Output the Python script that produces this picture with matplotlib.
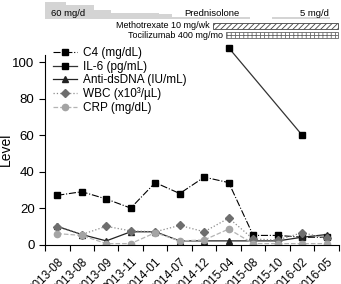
import numpy as np
import matplotlib
matplotlib.use("Agg")
import matplotlib.pyplot as plt

plt.rcParams['font.family'] = ['Liberation Sans', 'DejaVu Sans']
plt.rcParams['hatch.linewidth'] = 0.6

dates = ["2013-08", "2013-08", "2013-09", "2013-11", "2014-01", "2014-07",
         "2014-12", "2015-04", "2015-08", "2015-10", "2016-02", "2016-05"]

c4 = [27, 29, 25, 20, 34, 28, 37, 34, 5, 5, 4, 4]
il6 = [np.nan] * 7 + [108] + [np.nan] * 2 + [60, np.nan]
dsdna = [10, 5.5, 2, 7, 7, 2, 2, 2, 2, 2, 4, 5.5]
wbc = [9.5, 5.5, 10, 7.5, 7, 10.5, 7, 14.5, 3, 2.5, 6.5, 3.5]
crp = [6, 5, 0.5, 0.5, 6.5, 2, 2.5, 8.5, 0.5, 0.5, 0.5, 0.5]

# prednisolone taper: step edges (in visit units) and relative dose height
pred_edges = [-0.53, 0.37, 1.51, 2.21, 4.17, 4.7, 7.85]
pred_dose = [60, 48, 30, 20, 16, 7]
pred_tail = (8.75, 11.12, 7)
mtx_span = (6.35, 11.45)
tcz_span = (6.9, 11.45)

x = np.arange(len(dates))

fig = plt.figure(figsize=(3.41, 2.84), dpi=100)
ax = fig.add_axes([0.132, 0.139, 0.862, 0.667])
top = fig.add_axes([0.132, 1 - 45 / 284, 0.862, 45 / 284], sharex=ax)

ax.plot(x, c4, color='black', ls='-.', lw=0.8, marker='s', ms=4.5, label='C4 (mg/dL)')
m = ~np.isnan(il6)
ax.plot(x[m], np.array(il6)[m], color='#333333', ls='-', lw=0.9, marker='s', ms=4.5,
        mfc='black', mec='black', label='IL-6 (pg/mL)', clip_on=False)
ax.plot(x, dsdna, color='#222222', ls='-', lw=0.9, marker='^', ms=5, label='Anti-dsDNA (IU/mL)')
ax.plot(x, wbc, color='#8c8c8c', ls=':', lw=0.9, marker='D', ms=4, mfc='#6e6e6e', mec='#6e6e6e',
        label='WBC (x10\u00b3/\u00b5L)')
ax.plot(x, crp, color='#b4b4b4', ls='--', lw=0.9, marker='o', ms=4.5, mfc='#a4a4a4', mec='#a4a4a4',
        label='CRP (mg/dL)')

ax.set_xlim(-0.5, len(dates) - 0.5)
ax.set_ylim(0, 104)
ax.set_yticks([0, 20, 40, 60, 80, 100])
ax.set_xticks(x)
ax.set_xticks(np.arange(-0.5, len(dates)), minor=True)
ax.set_xticklabels(dates, rotation=45, ha='right', rotation_mode='anchor', fontsize=8.5)
ax.tick_params(axis='x', which='major', length=0, pad=8)
ax.tick_params(axis='x', which='minor', length=4, width=0.8)
ax.tick_params(axis='y', labelsize=9.5, length=4, width=0.8)
ax.spines['top'].set_visible(False)
ax.spines['right'].set_visible(False)
ax.set_ylabel('Level', fontsize=10)
ax.yaxis.set_label_coords(-0.11, 0.5)

ax.legend(loc='upper left', bbox_to_anchor=(0.0, 1.085), frameon=False, fontsize=8.5,
          handlelength=2.0, handletextpad=0.5, labelspacing=0.12, borderpad=0.2)

# treatment timeline
top.set_ylim(45, 0)
top.axis('off')
base = 18.5
for i, d in enumerate(pred_dose):
    h = d / 60 * 16.5
    top.fill_between([pred_edges[i], pred_edges[i + 1]], base, base - h,
                     color='#d4d4d4', lw=0)
h = pred_tail[2] / 60 * 16.5
top.fill_between([pred_tail[0], pred_tail[1]], base, base - h, color='#d4d4d4', lw=0)
top.text(-0.25, 13, '60 mg/d', fontsize=6.8, va='center')
top.text(6.3, 13, 'Prednisolone', fontsize=6.8, va='center', ha='center')
top.text(11.1, 13, '5 mg/d', fontsize=6.8, va='center', ha='right')

top.bar(mtx_span[0], 6, width=mtx_span[1] - mtx_span[0], bottom=22.5, align='edge',
        facecolor='white', edgecolor='#444444', lw=0.6, hatch='//////')
top.text(mtx_span[0] - 0.15, 25.5, 'Methotrexate 10 mg/wk', fontsize=6.5, va='center', ha='right')
top.bar(tcz_span[0], 6, width=tcz_span[1] - tcz_span[0], bottom=32, align='edge',
        facecolor='white', edgecolor='#666666', lw=0.6, hatch='++++')
top.text(tcz_span[0] - 0.15, 35, 'Tocilizumab 400 mg/mo', fontsize=6.5, va='center', ha='right')

fig.savefig('out.png', dpi=100)
